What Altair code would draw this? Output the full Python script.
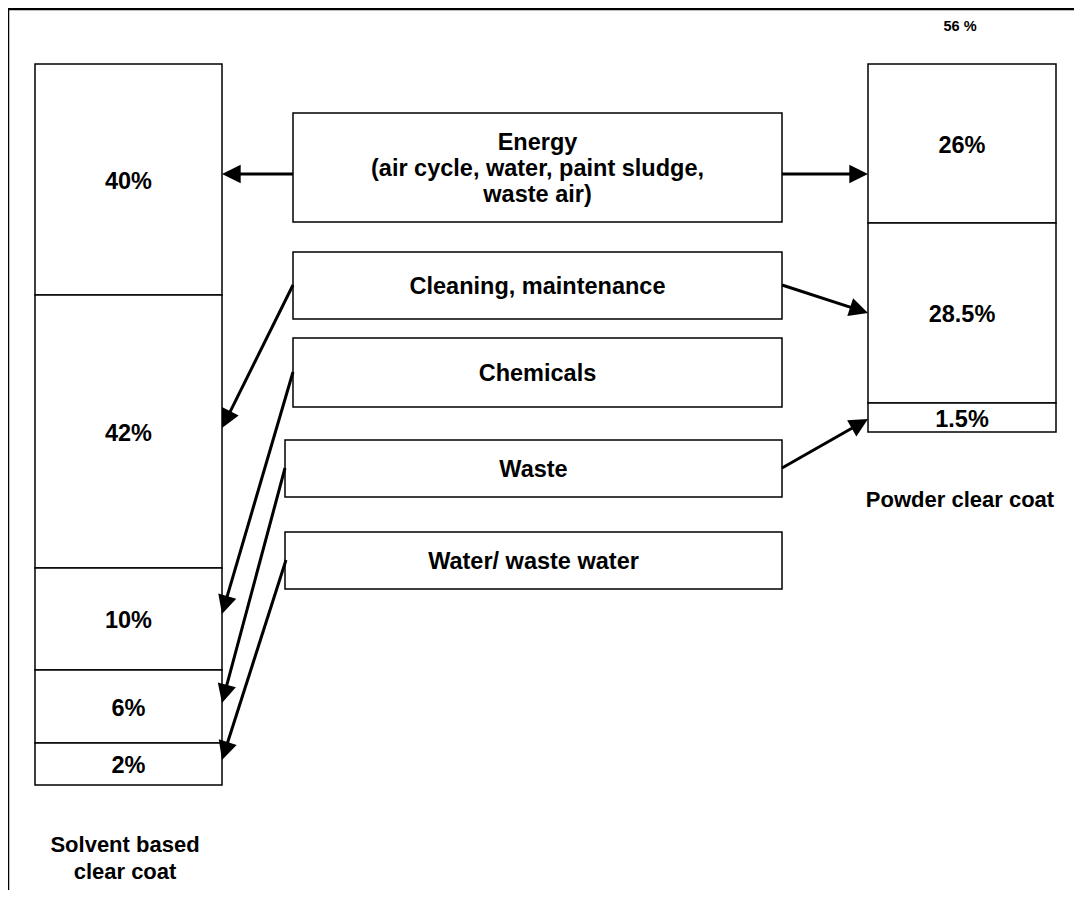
import math
import altair as alt
import pandas as pd

FONT = "Liberation Sans"

# ---- data ----
left_labels = ["40%", "42%", "10%", "6%", "2%"]
left_bounds = [64, 295, 568, 670, 743, 785]        # segment boundaries (diagram units)
left_x = [35, 222]

right_labels = ["26%", "28.5%", "1.5%"]
right_bounds = [64, 223, 403, 432]
right_x = [868, 1056]

box_labels = ["Energy\n(air cycle, water, paint sludge,\nwaste air)",
              "Cleaning, maintenance", "Chemicals", "Waste", "Water/ waste water"]
box_left = [293, 293, 293, 285, 285]
box_right = [782, 782, 782, 782, 782]
box_top = [113, 252, 338, 440, 532]
box_bottom = [222, 319, 407, 497, 589]

# arrows: start -> tip
arrow_x0 = [293, 782, 293, 782, 293, 285, 782, 286]
arrow_y0 = [174, 174, 285, 285, 372, 468, 468, 560]
arrow_x1 = [222, 868, 222, 868, 222, 222, 868, 222]
arrow_y1 = [174, 174, 428, 313, 614, 703, 419, 760]

titles = ["Solvent based\nclear coat", "Powder clear coat", "56 %"]
title_x = [125, 960, 960]
title_y = [858, 500, 27]
title_size = [22, 22, 14.5]

LABEL_SIZE = 23.5
LINE_H = 26

# ---- build tables ----
seg_rows = []
for i, lab in enumerate(left_labels):
    seg_rows.append(dict(x=left_x[0], x2=left_x[1], y=left_bounds[i], y2=left_bounds[i + 1],
                         label=lab))
for i, lab in enumerate(right_labels):
    seg_rows.append(dict(x=right_x[0], x2=right_x[1], y=right_bounds[i], y2=right_bounds[i + 1],
                         label=lab))
segs = pd.DataFrame(seg_rows)
segs["cx"] = (segs.x + segs.x2) / 2
segs["cy"] = (segs.y + segs.y2) / 2

boxes = pd.DataFrame(dict(x=box_left, x2=box_right, y=box_top, y2=box_bottom, label=box_labels))
boxes["cx"] = (boxes.x + boxes.x2) / 2
boxes["cy"] = (boxes.y + boxes.y2) / 2


def split_lines(labels, xs_, ys_, sizes, lh):
    rows = []
    for lab, x, y, s in zip(labels, xs_, ys_, sizes):
        parts = lab.split("\n")
        n = len(parts)
        for k, p in enumerate(parts):
            rows.append(dict(x=x, y=y + (k - (n - 1) / 2) * lh, label=p, size=s))
    return pd.DataFrame(rows)


box_lines = split_lines(box_labels, boxes.cx, boxes.cy, [LABEL_SIZE] * len(box_labels), LINE_H)
tit = split_lines(titles, title_x, title_y, title_size, 27)

arr_rows = []
for a, b, c, d in zip(arrow_x0, arrow_y0, arrow_x1, arrow_y1):
    dx, dy = c - a, d - b
    L = math.hypot(dx, dy)
    ux, uy = dx / L, dy / L
    ang = math.degrees(math.atan2(dx, -dy)) % 360
    arr_rows.append(dict(x=a, y=b, xe=c - ux * 10, ye=d - uy * 10, tx=c, ty=d, angle=ang))
arrows = pd.DataFrame(arr_rows)

frame = pd.DataFrame(dict(x=[8, 8], x2=[1074, 8], y=[9, 9], y2=[9, 898]))

W, H = 1066, 882
xs = alt.Scale(domain=[8, 8 + W], nice=False, zero=False)
ys = alt.Scale(domain=[8 + H, 8], nice=False, zero=False)
X = lambda f: alt.X(f, type="quantitative", scale=xs, axis=None)
Y = lambda f: alt.Y(f, type="quantitative", scale=ys, axis=None)

frame_l = alt.Chart(frame).mark_rule(color="black", strokeWidth=2.5).encode(
    x=X("x"), x2="x2", y=Y("y"), y2="y2")

seg_rect = alt.Chart(segs).mark_rect(fill="white", stroke="black", strokeWidth=1.5).encode(
    x=X("x"), x2="x2", y=Y("y"), y2="y2")
seg_text = alt.Chart(segs).mark_text(font=FONT, fontSize=LABEL_SIZE, fontWeight="bold",
                                     color="black", baseline="middle", dy=2).encode(
    x=X("cx"), y=Y("cy"), text="label")

box_rect = alt.Chart(boxes).mark_rect(fill="white", stroke="black", strokeWidth=1.5).encode(
    x=X("x"), x2="x2", y=Y("y"), y2="y2")
box_text = alt.Chart(box_lines).mark_text(font=FONT, fontWeight="bold", color="black",
                                          baseline="middle", dy=1).encode(
    x=X("x"), y=Y("y"), text="label", size=alt.Size("size:Q", scale=None, legend=None))

arr_line = alt.Chart(arrows).mark_rule(color="black", strokeWidth=3).encode(
    x=X("x"), y=Y("y"), x2="xe", y2="ye")
arr_head = alt.Chart(arrows).mark_point(shape="M0,0L-0.5,1L0.5,1Z", filled=True, color="black",
                                        opacity=1, size=1400, strokeWidth=0).encode(
    x=X("tx"), y=Y("ty"), angle=alt.Angle("angle:Q", scale=None))

title_text = alt.Chart(tit).mark_text(font=FONT, fontWeight="bold", color="black",
                                      baseline="middle").encode(
    x=X("x"), y=Y("y"), text="label", size=alt.Size("size:Q", scale=None, legend=None))

chart = alt.layer(frame_l, seg_rect, seg_text, box_rect, box_text, arr_line, arr_head,
                  title_text).properties(
    width=W, height=H, padding=0, autosize=alt.AutoSizeParams(type="none")
).configure_view(stroke=None).configure(background="white")

chart.save("out.html", embed_options={"renderer": "svg", "actions": False})
